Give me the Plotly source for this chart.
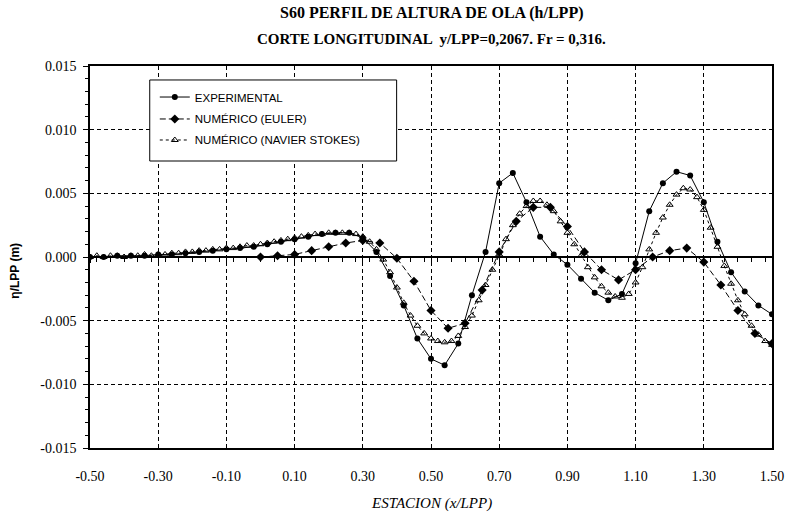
import plotly.graph_objects as go

# ---------------- data ----------------
EXP_X = [-0.50, -0.46, -0.42, -0.38, -0.34, -0.30, -0.26, -0.22, -0.18, -0.14,
         -0.10, -0.06, -0.02, 0.02, 0.06, 0.10, 0.14, 0.18, 0.22, 0.26,
         0.30, 0.34, 0.38, 0.42, 0.46, 0.50, 0.54, 0.58, 0.62, 0.66,
         0.70, 0.74, 0.78, 0.82, 0.86, 0.90, 0.94, 0.98, 1.02, 1.06,
         1.10, 1.14, 1.18, 1.22, 1.26, 1.30, 1.34, 1.38, 1.42, 1.46, 1.50]
EXP_Y = [0.0000, 0.0000, 0.0001, 0.0001, 0.0001, 0.0002, 0.0002, 0.0003, 0.0004, 0.0005,
         0.0006, 0.0007, 0.0008, 0.0010, 0.0012, 0.0014, 0.0016, 0.0018, 0.0019, 0.0019,
         0.0015, 0.0004, -0.0015, -0.0038, -0.0064, -0.0080, -0.0085, -0.0068, -0.0030, 0.0004,
         0.0058, 0.0066, 0.0043, 0.0016, 0.0002, -0.0006, -0.0017, -0.0028, -0.0034, -0.0029,
         -0.0005, 0.0036, 0.0058, 0.0067, 0.0064, 0.0043, 0.0012, -0.0012, -0.0027, -0.0038, -0.0045]

EULER_X = [0.00, 0.05, 0.10, 0.15, 0.20, 0.25, 0.30, 0.35, 0.40, 0.45,
           0.50, 0.55, 0.60, 0.65, 0.70, 0.75, 0.80, 0.85, 0.90, 0.95,
           1.00, 1.05, 1.10, 1.15, 1.20, 1.25, 1.30, 1.35, 1.40, 1.45, 1.50]
EULER_Y = [0.0000, 0.0001, 0.0002, 0.0005, 0.0008, 0.0011, 0.0013, 0.0011, -0.0001, -0.0019,
           -0.0042, -0.0056, -0.0052, -0.0026, 0.0004, 0.0028, 0.0039, 0.0039, 0.0024, 0.0004,
           -0.0010, -0.0018, -0.0010, 0.0000, 0.0005, 0.0007, -0.0004, -0.0022, -0.0042, -0.0060, -0.0068]

NS_X = [-0.50, -0.48, -0.46, -0.44, -0.42, -0.40, -0.38, -0.36, -0.34, -0.32,
        -0.30, -0.28, -0.26, -0.24, -0.22, -0.20, -0.18, -0.16, -0.14, -0.12,
        -0.10, -0.08, -0.06, -0.04, -0.02, 0.00, 0.02, 0.04, 0.06, 0.08,
        0.10, 0.12, 0.14, 0.16, 0.18, 0.20, 0.22, 0.24, 0.26, 0.28,
        0.30, 0.32, 0.34, 0.36, 0.38, 0.40, 0.42, 0.44, 0.46, 0.48,
        0.50, 0.52, 0.54, 0.56, 0.58, 0.60, 0.62, 0.64, 0.66, 0.68,
        0.70, 0.72, 0.74, 0.76, 0.78, 0.80, 0.82, 0.84, 0.86, 0.88,
        0.90, 0.92, 0.94, 0.96, 0.98, 1.00, 1.02, 1.04, 1.06, 1.08,
        1.10, 1.12, 1.14, 1.16, 1.18, 1.20, 1.22, 1.24, 1.26, 1.28,
        1.30, 1.32, 1.34, 1.36, 1.38, 1.40, 1.42, 1.44, 1.46, 1.48, 1.50]
NS_Y = [0.0000, 0.0001, 0.0000, 0.0001, 0.0001, 0.0000, 0.0001, 0.0001, 0.0002, 0.0001,
        0.0002, 0.0002, 0.0003, 0.0003, 0.0004, 0.0004, 0.0005, 0.0005, 0.0006, 0.0006,
        0.0007, 0.0007, 0.0008, 0.0009, 0.0009, 0.0010, 0.0011, 0.0012, 0.0013, 0.0014,
        0.0015, 0.0016, 0.0017, 0.0018, 0.0018, 0.0019, 0.0019, 0.0019, 0.0019, 0.0018,
        0.0016, 0.0012, 0.0006, -0.0002, -0.0012, -0.0024, -0.0036, -0.0046, -0.0054, -0.0060,
        -0.0064, -0.0066, -0.0067, -0.0066, -0.0062, -0.0055, -0.0046, -0.0034, -0.0022, -0.0010,
        0.0002, 0.0014, 0.0025, 0.0034, 0.0040, 0.0044, 0.0044, 0.0041, 0.0036, 0.0028,
        0.0019, 0.0010, 0.0001, -0.0008, -0.0016, -0.0023, -0.0028, -0.0031, -0.0032, -0.0029,
        -0.0020, -0.0008, 0.0006, 0.0019, 0.0031, 0.0041, 0.0049, 0.0054, 0.0053, 0.0047,
        0.0037, 0.0023, 0.0008, -0.0007, -0.0021, -0.0034, -0.0045, -0.0054, -0.0061, -0.0066, -0.0069]

X_TICK_VALS = [-0.50, -0.30, -0.10, 0.10, 0.30, 0.50, 0.70, 0.90, 1.10, 1.30, 1.50]
X_TICK_TEXT = ["-0.50", "-0.30", "-0.10", "0.10", "0.30", "0.50", "0.70", "0.90", "1.10", "1.30", "1.50"]
Y_TICK_VALS = [0.015, 0.010, 0.005, 0.000, -0.005, -0.010, -0.015]
Y_TICK_TEXT = ["0.015", "0.010", "0.005", "0.000", "-0.005", "-0.010", "-0.015"]

SERIES_NAMES = ["EXPERIMENTAL", "NUMÉRICO (EULER)", "NUMÉRICO (NAVIER STOKES)"]
TITLE_LINES = ["S60 PERFIL DE ALTURA DE OLA (h/LPP)",
               "CORTE LONGITUDINAL  y/LPP=0,2067. Fr = 0,316."]
X_TITLE = "ESTACION (x/LPP)"
Y_TITLE = "η/LPP (m)"

# ---------------- figure ----------------
fig = go.Figure()
fig.add_trace(go.Scatter(
    x=EXP_X, y=EXP_Y, mode="lines+markers", name=SERIES_NAMES[0], legend="legend",
    line=dict(color="black", width=1),
    marker=dict(symbol="circle", size=6, color="black")))
fig.add_trace(go.Scatter(
    x=EULER_X, y=EULER_Y, mode="lines+markers", name=SERIES_NAMES[1], legend="legend2",
    line=dict(color="black", width=1, dash="6px,3px"),
    marker=dict(symbol="diamond", size=7, color="black")))
fig.add_trace(go.Scatter(
    x=NS_X, y=NS_Y, mode="lines+markers", name=SERIES_NAMES[2], legend="legend3",
    line=dict(color="black", width=1, dash="3px,3px"),
    marker=dict(symbol="triangle-up-open", size=6, color="black", line=dict(width=1))))
# carrier for the tick marks drawn on the zero line
fig.add_trace(go.Scatter(x=[-0.5, 1.5], y=[0, 0], xaxis="x2", mode="none",
                         showlegend=False, hoverinfo="skip"))

serif = "Liberation Serif"
leg_font = dict(family="Liberation Sans", size=11.5, color="black")


def leg(ypos):
    return dict(x=0.095, y=ypos, xanchor="left", yanchor="middle",
                bgcolor="rgba(0,0,0,0)", borderwidth=0, font=leg_font, itemwidth=30)


fig.update_layout(
    width=796, height=521,
    margin=dict(l=90, r=21, t=66, b=73),
    paper_bgcolor="white", plot_bgcolor="white",
    showlegend=True,
    legend=leg(0.9188), legend2=leg(0.8613), legend3=leg(0.8063),
    shapes=[dict(type="rect", xref="paper", yref="paper",
                 x0=0.0876, x1=0.4496, y0=0.7513, y1=0.9634,
                 line=dict(color="black", width=1), fillcolor="white", layer="above")],
    xaxis=dict(range=[-0.5, 1.5], tickvals=X_TICK_VALS, ticktext=X_TICK_TEXT,
               showgrid=True, gridcolor="black", gridwidth=1.2, griddash="4px,3px",
               showline=True, linecolor="black", linewidth=1.5, mirror=True,
               ticks="", zeroline=False, ticklabelstandoff=14,
               tickfont=dict(family=serif, size=14, color="black")),
    xaxis2=dict(range=[-0.5, 1.5], overlaying="x", anchor="free", position=0.5,
                side="bottom", tick0=-0.5, dtick=0.2, ticks="outside", ticklen=5,
                tickcolor="black", showticklabels=False, showgrid=False,
                showline=False, zeroline=False,
                minor=dict(dtick=0.04, ticks="outside", ticklen=4, tickcolor="black")),
    yaxis=dict(range=[-0.015, 0.015], tickvals=Y_TICK_VALS, ticktext=Y_TICK_TEXT,
               showgrid=True, gridcolor="black", gridwidth=1.2, griddash="4px,3px",
               showline=True, linecolor="black", linewidth=1.5, mirror=True,
               zeroline=True, zerolinecolor="black", zerolinewidth=1.5,
               ticks="outside", ticklen=5, tickcolor="black", ticklabelstandoff=4,
               minor=dict(dtick=0.001, ticks="outside", ticklen=3, tickcolor="black"),
               tickfont=dict(family=serif, size=14, color="black")),
    annotations=[
        dict(text="<b>" + TITLE_LINES[0] + "</b>", x=0.5, y=1.139, xref="paper", yref="paper",
             showarrow=False, xanchor="center", yanchor="middle",
             font=dict(family=serif, size=16, color="black")),
        dict(text="<b>" + TITLE_LINES[1] + "</b>", x=0.5, y=1.0707, xref="paper", yref="paper",
             showarrow=False, xanchor="center", yanchor="middle",
             font=dict(family=serif, size=15, color="black")),
        dict(text="<i>" + X_TITLE + "</i>", x=0.5, y=-0.144, xref="paper", yref="paper",
             showarrow=False, xanchor="center", yanchor="middle",
             font=dict(family=serif, size=15, color="black")),
        dict(text="<b>" + Y_TITLE + "</b>", x=-0.1095, y=0.465, xref="paper", yref="paper",
             showarrow=False, xanchor="center", yanchor="middle", textangle=-90,
             font=dict(family="Liberation Sans", size=12, color="black")),
    ],
)

fig.write_html("out.html")
